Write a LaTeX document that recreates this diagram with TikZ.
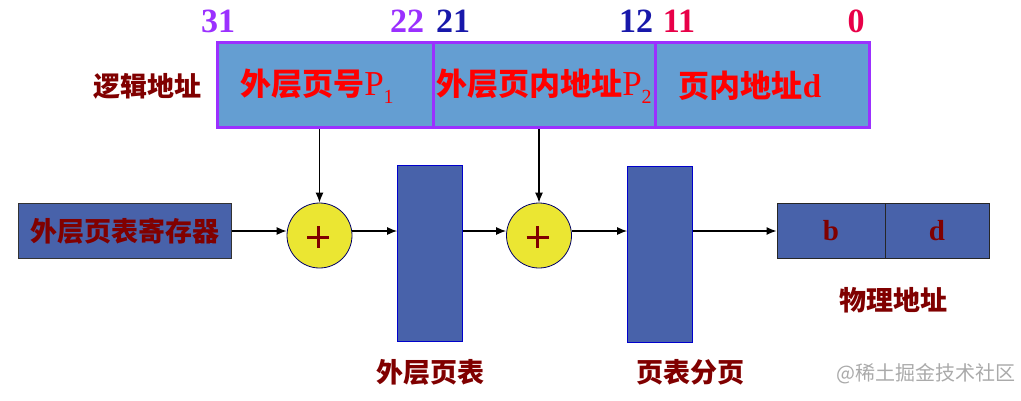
\documentclass[tikz,border=0pt]{standalone}
\usepackage{fontspec}
\setmainfont{Liberation Serif}
\newfontfamily\cjk{Noto Sans CJK SC}
\usetikzlibrary{arrows.meta}
\definecolor{purp}{RGB}{155,48,255}
\definecolor{bitblue}{RGB}{24,24,170}
\definecolor{bitred}{RGB}{232,0,72}
\definecolor{fieldfill}{RGB}{100,158,210}
\definecolor{dred}{RGB}{128,0,0}
\definecolor{dblue}{RGB}{72,98,170}
\definecolor{yel}{RGB}{235,230,50}
\definecolor{wm}{RGB}{170,170,170}
\begin{document}
\begin{tikzpicture}[x=1pt,y=-1pt,
  field/.style={draw=purp,line width=3pt,fill=fieldfill,minimum height=85pt,inner sep=0pt},
  ftext/.style={text=red,font=\cjk\bfseries\fontsize{31}{33}\selectfont,inner sep=0pt},
  bitnum/.style={font=\bfseries\fontsize{34}{36}\selectfont,inner sep=0pt},
  lab/.style={font=\cjk\bfseries\fontsize{27}{30}\selectfont,text=dred,inner sep=0pt},
  tbl/.style={draw=blue!80!black,line width=0.8pt,fill=dblue,minimum width=65pt,minimum height=176pt,inner sep=0pt},
  adder/.style={circle,draw=blue!40!black,line width=0.8pt,fill=yel,minimum size=65pt,inner sep=0pt},
  arr/.style={line width=1.2pt,-{Latex[length=10pt,width=8pt]}},
  plusline/.style={draw=dred,line width=3pt}
]
\useasboundingbox (0,0) rectangle (1021,400);

% bit numbers
\node[bitnum,text=purp] (b31) at (218,21) {31};
\node[bitnum,text=purp] (b22) at (407,21) {22};
\node[bitnum,text=bitblue] (b21) at (453,21) {21};
\node[bitnum,text=bitblue] (b12) at (636,21) {12};
\node[bitnum,text=bitred] (b11) at (679,21) {11};
\node[bitnum,text=bitred] (b0) at (856,21) {0};

% logical address
\node[field,minimum width=216pt] (f1) at (325,85) {};
\node[field,minimum width=222pt] (f2) at (544,85) {};
\node[field,minimum width=214pt] (f3) at (762,85) {};
\node[ftext] (t1txt) at (317,86)
  {外层页号{\mdseries\rmfamily\fontsize{35}{35}\selectfont P\raisebox{-0.22em}{\fontsize{20}{20}\selectfont 1}}};
\node[ftext] (t2txt) at (544,86)
  {外层页内地址{\mdseries\rmfamily\fontsize{35}{35}\selectfont P\raisebox{-0.22em}{\fontsize{20}{20}\selectfont 2}}};
\node[ftext] (t3txt) at (750,86)
  {页内地址{\rmfamily\fontsize{33}{33}\selectfont d}};
\node[lab] (la) at (147,86) {逻辑地址};

% register
\node[draw=black!80,line width=0.8pt,fill=dblue,minimum width=213pt,minimum height=55pt,inner sep=0pt,
  font=\cjk\bfseries\fontsize{27}{30}\selectfont,text=dred] (reg) at (125,231) {外层页表寄存器};

% adders
\node[adder] (c1) at (319.5,235.5) {};
\node[adder] (c2) at (539,235.5) {};
\foreach \c in {c1,c2}{
  \path[plusline] ([xshift=-12.5pt,yshift=-1.5pt]\c.center) -- ([xshift=9.5pt,yshift=-1.5pt]\c.center);
  \path[plusline] ([xshift=-1.5pt,yshift=9.5pt]\c.center) -- ([xshift=-1.5pt,yshift=-12.5pt]\c.center);
}

% tables
\node[tbl] (t1) at (430,253) {};
\node[tbl] (t2) at (660,254) {};
\node[lab] (lt1) at (430,372) {外层页表};
\node[lab] (lt2) at (690,372) {页表分页};

% physical address
\node[draw=black!85,line width=1pt,fill=dblue,minimum width=108pt,minimum height=55pt,inner sep=0pt,
  font=\bfseries\fontsize{29}{30}\selectfont,text=dred] (pb) at (831,231) {b};
\node[draw=black!85,line width=1pt,fill=dblue,minimum width=104pt,minimum height=55pt,inner sep=0pt,
  font=\bfseries\fontsize{29}{30}\selectfont,text=dred] (pd) at (937,231) {d};
\node[lab] (lp) at (893,300) {物理地址};

% watermark
\node[font=\cjk\fontsize{20}{22}\selectfont,text=wm] (w) at (926,374) {@稀土掘金技术社区};

% arrows
\draw[arr] (f1.south -| c1.north) -- (c1.north);
\draw[arr] (f2.south -| c2.north) -- (c2.north);
\draw[arr] (reg.east) -- (reg.east -| c1.west);
\draw[arr] (reg.east -| c1.east) -- (reg.east -| t1.west);
\draw[arr] (reg.east -| t1.east) -- (reg.east -| c2.west);
\draw[arr] (reg.east -| c2.east) -- (reg.east -| t2.west);
\draw[arr] (reg.east -| t2.east) -- (pb.west);
\end{tikzpicture}
\end{document}
